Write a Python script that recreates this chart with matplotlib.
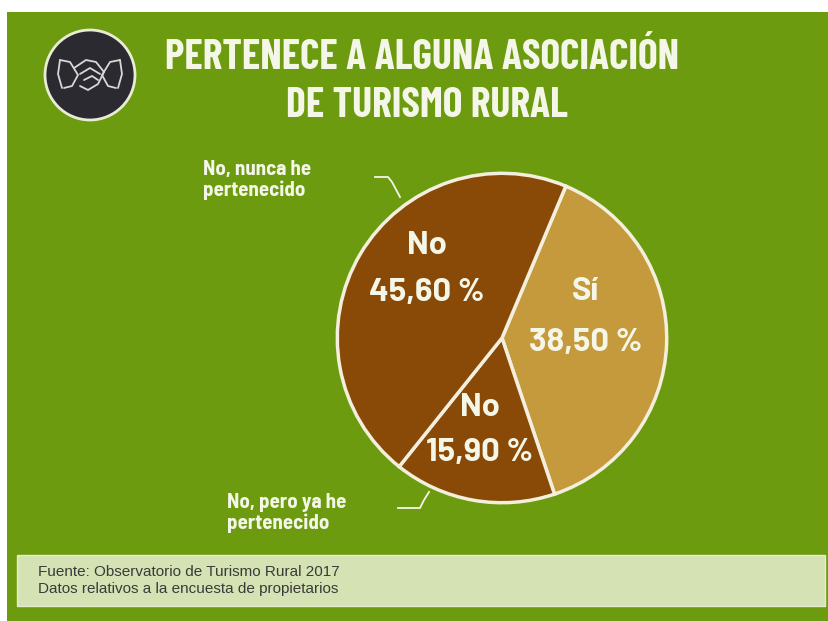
import matplotlib
matplotlib.use("Agg")
import matplotlib.pyplot as plt
from matplotlib import font_manager
from matplotlib.patches import Rectangle, Circle

# --- data ---------------------------------------------------------------
categories = ["Sí", "No", "No"]
shares = [38.5, 15.9, 45.6]
outer_labels = ["", "No, pero ya he\npertenecido", "No, nunca he\npertenecido"]
title_lines = ["PERTENECE A ALGUNA ASOCIACIÓN", "DE TURISMO RURAL"]
source_lines = ["Fuente: Observatorio de Turismo Rural 2017",
                "Datos relativos a la encuesta de propietarios"]

# --- styling -----------------------------------------------------------
W, H = 829, 621
GREEN = "#6c9b10"
FOOT_BG = "#d4e2b4"
SLICE_COLORS = ["#c49a3c", "#884a06", "#884a06"]
EDGE = "#f3efdc"
TXT = "#f4f6e8"

installed = {f.name for f in font_manager.fontManager.ttflist}

def pick(*names):
    fam = [n for n in names if n in installed]
    return fam + ["DejaVu Sans"]

TITLE = pick("Barlow Condensed", "Roboto Condensed", "Liberation Sans Narrow")
HEAD = pick("Barlow Semi Condensed", "Roboto Condensed", "Liberation Sans Narrow")
BIG = pick("Barlow", "Roboto", "Liberation Sans")
SMALL = pick("Liberation Sans", "Arimo", "DejaVu Sans")

fig = plt.figure(figsize=(W / 100, H / 100), dpi=100)
fig.patch.set_facecolor("white")

def pixel_axes(z):
    ax = fig.add_axes([0, 0, 1, 1], zorder=z)
    ax.set_xlim(0, W)
    ax.set_ylim(H, 0)
    ax.axis("off")
    ax.patch.set_alpha(0)
    return ax

# background layer
bg = pixel_axes(0)
bg.add_patch(Rectangle((7, 12), W - 7, H - 12, facecolor=GREEN, edgecolor="none"))
bg.add_patch(Rectangle((17, 555), 808, 51, facecolor=FOOT_BG, edgecolor="#e4edcc", lw=1))

# logo badge
bg.add_patch(Circle((90, 75), 45, facecolor="#2b2a30", edgecolor="#e8ecd4", lw=2))
hand = dict(color="#d8d8d8", lw=1.3, solid_capstyle="round")
bg.plot([60, 70, 78, 72, 64], [60, 62, 75, 86, 88], **hand)
bg.plot([120, 110, 102, 108, 116], [60, 62, 75, 86, 88], **hand)
bg.plot([74, 86, 96, 104, 98, 88, 80], [68, 60, 62, 72, 84, 90, 86], **hand)
bg.plot([80, 90, 100], [74, 68, 74], **hand)
bg.plot([84, 92, 98], [80, 76, 80], **hand)
bg.plot([60, 58, 62], [60, 74, 88], **hand)
bg.plot([120, 122, 118], [60, 74, 88], **hand)

# pie: centre (502, 338), radius 168 px
cx, cy, r = 502, 338, 168
pax = fig.add_axes([(cx - r) / W, (H - cy - r) / H, 2 * r / W, 2 * r / H], zorder=1)
pax.set_aspect("equal")
pax.pie(shares, colors=SLICE_COLORS, startangle=67.2, counterclock=False,
        radius=1.0, wedgeprops=dict(edgecolor=EDGE, linewidth=2.5))
pax.set_xlim(-1.02, 1.02)
pax.set_ylim(-1.02, 1.02)

# text layer
fg = pixel_axes(2)

fg.text(422, 58, title_lines[0], ha="center", va="center", color=TXT,
        fontsize=30, fontweight="bold", family=TITLE)
fg.text(427, 106, title_lines[1], ha="center", va="center", color=TXT,
        fontsize=30, fontweight="bold", family=TITLE)

fg.text(38, 572, source_lines[0], ha="left", va="center", color="#3a3a3a",
        fontsize=11, family=SMALL)
fg.text(38, 589, source_lines[1], ha="left", va="center", color="#3a3a3a",
        fontsize=11, family=SMALL)

def pct(v):
    return f"{v:.2f}".replace(".", ",") + " %"

inner_pos = [(586, 292, 343), (480, 408, 452), (427, 245, 293)]
for name, v, (x, y1, y2) in zip(categories, shares, inner_pos):
    fg.text(x, y1, name, ha="center", va="center", color=TXT,
            fontsize=23.5, fontweight="bold", family=BIG)
    fg.text(x, y2, pct(v), ha="center", va="center", color=TXT,
            fontsize=23.5, fontweight="bold", family=BIG)

# outside callouts
fg.text(203, 180, outer_labels[2], ha="left", va="center", color=TXT,
        fontsize=15, fontweight="bold", family=HEAD, linespacing=1.1)
fg.plot([375, 388, 392, 400], [177, 177, 182, 197], color=TXT, lw=1.3)
fg.text(227, 513, outer_labels[1], ha="left", va="center", color=TXT,
        fontsize=15, fontweight="bold", family=HEAD, linespacing=1.1)
fg.plot([398, 420, 424, 429], [508, 508, 500, 492], color=TXT, lw=1.3)

fig.savefig("out.png", dpi=100, facecolor=fig.get_facecolor())
